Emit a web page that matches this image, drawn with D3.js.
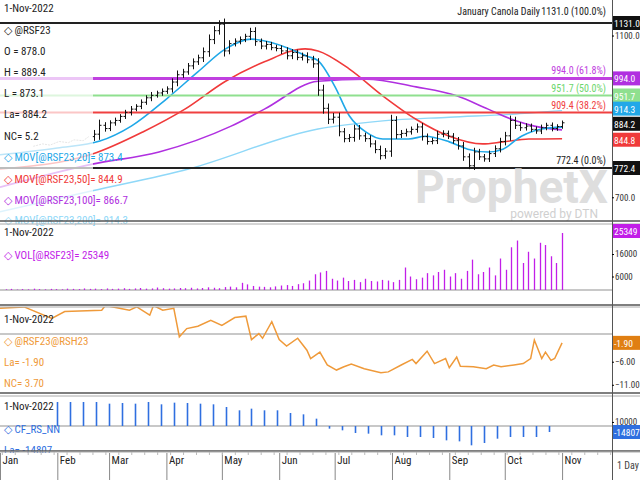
<!DOCTYPE html>
<html>
<head>
<meta charset="utf-8">
<script src="https://cdn.jsdelivr.net/npm/d3@7"></script>
<style>
  body { margin: 0; background: #fff; }
  svg text { font-family: "Liberation Sans Narrow", "Roboto Condensed", "Liberation Sans", sans-serif; font-size: 11px; }
</style>
</head>
<body>
<svg id="chart" width="640" height="480"></svg>
<script>
// January canola daily, with 20/50/100/200-day averages and Fibonacci levels
var barStart = '2022-02-21', barEnd = '2022-11-01';
var closes = [856, 878, 870, 884, 890, 900, 910, 918, 925, 935, 946, 952, 958, 962, 968, 985, 1003, 1010, 1025, 1035,
  1045, 1060, 1090, 1112, 1128, 1062, 1080, 1086, 1090, 1098, 1110, 1085, 1074, 1078, 1070, 1068, 1062, 1050, 1058, 1046,
  1050, 1040, 1030, 965, 920, 893, 898, 862, 845, 848, 869, 852, 845, 832, 818, 803, 814, 890, 855, 858,
  862, 868, 874, 850, 838, 840, 856, 858, 851, 840, 827, 800, 778, 812, 800, 795, 808, 820, 838, 852,
  890, 878, 872, 876, 868, 864, 872, 878, 870, 875, 884.2];
var ranges = [30, 40, 22, 18, 20, 16, 18, 22, 15, 20, 18, 24, 16, 20, 18, 26, 30, 22, 20, 24,
  22, 30, 36, 32, 28, 40, 24, 20, 22, 18, 26, 30, 22, 24, 18, 20, 22, 26, 24, 20,
  22, 24, 28, 40, 38, 34, 30, 32, 26, 24, 30, 28, 22, 24, 26, 28, 22, 40, 30, 24,
  22, 20, 24, 28, 22, 20, 24, 22, 20, 22, 26, 28, 24, 30, 22, 20, 22, 24, 26, 28,
  34, 26, 22, 20, 18, 20, 22, 18, 20, 16, 16];
var preDates = ['2022-01-19', '2022-01-24', '2022-01-28', '2022-02-02', '2022-02-07', '2022-02-10', '2022-02-15', '2022-02-18'];
var preCloses = [826, 832, 829, 838, 835, 842, 840, 850];

var ma20 = [['2022-01-01', 805], ['2022-02-01', 822], ['2022-02-24', 839], ['2022-03-13', 876], ['2022-04-01', 943], ['2022-04-18', 1010],
  ['2022-05-03', 1067], ['2022-05-17', 1091], ['2022-06-07', 1067], ['2022-06-16', 1049], ['2022-06-22', 1038], ['2022-07-01', 975],
  ['2022-07-09', 901], ['2022-07-18', 861], ['2022-07-27', 844], ['2022-08-10', 844], ['2022-08-19', 851], ['2022-09-01', 837],
  ['2022-09-11', 819], ['2022-09-22', 812], ['2022-09-30', 819], ['2022-10-10', 851], ['2022-10-21', 869], ['2022-11-01', 873.4]];
var ma50 = [['2022-01-01', 770], ['2022-02-20', 807], ['2022-03-19', 861], ['2022-04-11', 918], ['2022-05-03', 987], ['2022-05-24', 1035],
  ['2022-06-15', 1067], ['2022-06-22', 1062], ['2022-07-09', 1017], ['2022-07-27', 951], ['2022-08-14', 893], ['2022-09-01', 851],
  ['2022-09-19', 832], ['2022-09-30', 837], ['2022-10-14', 844], ['2022-11-01', 844.9]];
var ma100 = [['2022-01-01', 725], ['2022-02-20', 782], ['2022-03-28', 812], ['2022-05-06', 876], ['2022-05-24', 918], ['2022-06-22', 987],
  ['2022-07-18', 992], ['2022-08-14', 973], ['2022-09-05', 951], ['2022-09-22', 918], ['2022-10-07', 889], ['2022-10-17', 876], ['2022-11-01', 866.7]];
var ma200 = [['2022-01-01', 664], ['2022-02-20', 716], ['2022-04-13', 770], ['2022-06-22', 869], ['2022-07-27', 889], ['2022-09-01', 898],
  ['2022-10-07', 906], ['2022-11-01', 914.3]];

var fibLevels = [1131.0, 994.0, 951.7, 909.4, 772.4];
var fibLabels = ['1131.0 (100.0%)', '994.0 (61.8%)', '951.7 (50.0%)', '909.4 (38.2%)', '772.4 (0.0%)'];
var fibColors = ['#222', '#c040e0', '#8fe08f', '#f04040', '#222'];

var volStart = '2022-01-04', volEnd = '2022-11-01';
var volumes = [300, 500, 200, 400, 300, 600, 400, 300, 500, 400, 300, 600, 500, 400, 700, 500, 600, 400, 700, 500,
  600, 800, 500, 700, 900, 600, 700, 1100, 800, 600, 700, 900, 800, 1000, 700, 900, 1200, 1000, 800, 1300,
  1500, 1200, 3200, 2500, 1800, 1500, 1400, 1200, 1600, 2000, 2200, 1800, 2600, 3000, 4200, 7000, 7800, 8500, 5000, 4200,
  5500, 4000, 4500, 3500, 5000, 4000, 3800, 4500, 4200, 3500, 4500, 10000, 6000, 4800, 5500, 7500, 6500, 8000, 9000, 6000,
  7500, 5000, 8500, 13500, 7000, 8000, 10000, 6500, 14000, 9000, 19000, 22000, 12000, 17000, 14000, 21000, 20000, 15000, 12000, 25349];

var spreadDates = ['2022-01-01', '2022-01-14', '2022-01-29', '2022-02-05', '2022-02-25', '2022-02-27', '2022-03-12', '2022-03-16', '2022-03-23',
  '2022-03-25', '2022-03-30', '2022-04-05', '2022-04-08', '2022-04-12', '2022-04-18', '2022-04-25', '2022-05-01', '2022-05-08', '2022-05-14',
  '2022-05-17', '2022-05-21', '2022-05-23', '2022-05-28', '2022-06-01', '2022-06-05', '2022-06-11', '2022-06-16', '2022-06-18', '2022-06-23',
  '2022-06-27', '2022-07-02', '2022-07-06', '2022-07-10', '2022-07-17', '2022-07-26', '2022-07-30', '2022-08-06', '2022-08-12', '2022-08-14',
  '2022-08-20', '2022-08-24', '2022-08-30', '2022-09-01', '2022-09-05', '2022-09-07', '2022-09-14', '2022-09-21', '2022-09-25', '2022-09-29',
  '2022-10-06', '2022-10-11', '2022-10-15', '2022-10-17', '2022-10-21', '2022-10-23', '2022-10-26', '2022-10-28', '2022-11-01'];
var spreadValues = [5.6, 5.9, 3.4, 4.9, 5.2, 6.2, 5.2, 5.9, 4.1,
  6.2, 5.2, 5.6, -0.6, 1.2, 1.7, 3.0, 1.9, 3.6, 3.9,
  -1.2, 0.1, -0.9, 2.7, -1.2, -2.6, -0.9, -3.5, -5.3, -3.9,
  -6.7, -7.8, -7.1, -6.5, -7.5, -8.4, -8.2, -6.7, -5.5, -6.4,
  -3.7, -6.4, -5.3, -7.3, -5.0, -7.0, -7.1, -7.5, -6.7, -7.1,
  -6.7, -6.4, -5.3, -1.3, -5.3, -3.9, -5.7, -5.3, -1.9];

var cotStart = '2022-02-01';
var cotValues = [59300, 59300, 59300, 59300, 55100, 56800, 55100, 59300, 53500, 57600, 56800, 55100, 53500, 46900, 38700, 42800,
  38700, 38700, 32100, 28800, 18100, -6600, -10700, -17300, -18900, -23000, -23000, -27200, -27200, -29600, -35400, -37900,
  -47700, -42000, -31300, -27200, -27200, -27200, -14807];

var monthLabels = ['Jan', 'Feb', 'Mar', 'Apr', 'May', 'Jun', 'Jul', 'Aug', 'Sep', 'Oct', 'Nov'];

var parse = d3.timeParse('%Y-%m-%d');
var svg = d3.select('#chart');
var W = 612;
var x = d3.scaleTime().domain([new Date(2022, 0, 1), new Date(2022, 10, 28)]).range([0, W]);

svg.append('rect').attr('width', 640).attr('height', 480).attr('fill', '#fff');

function clip(id, y0, y1) {
  svg.append('clipPath').attr('id', id).append('rect').attr('x', 0).attr('y', y0).attr('width', W).attr('height', y1 - y0);
}
clip('cp1', 0, 221); clip('cp2', 223, 305); clip('cp3', 307, 393); clip('cp4', 396, 451);

// ---------- price panel ----------
var yP = d3.scaleLinear().domain([772.4, 1131]).range([168, 23]);
var g1 = svg.append('g').attr('clip-path', 'url(#cp1)');

var maLine = d3.line().curve(d3.curveMonotoneX).x(d => x(parse(d[0]))).y(d => yP(d[1]));
[[ma200, '#8fd8f8', 1.4], [ma100, '#b030e0', 1.6], [ma50, '#f03a3a', 1.6], [ma20, '#1fa8e8', 1.6]].forEach(function (m) {
  g1.append('path').attr('d', maLine(m[0])).attr('fill', 'none').attr('stroke', m[1]).attr('stroke-width', m[2]);
});

fibLevels.forEach(function (v, i) {
  g1.append('line').attr('x1', 0).attr('x2', W).attr('y1', yP(v)).attr('y2', yP(v))
    .attr('stroke', fibColors[i]).attr('stroke-width', i === 1 ? 3 : 2);
});

g1.append('path')
  .attr('d', d3.line().x((d, i) => x(parse(preDates[i]))).y(d => yP(d))(preCloses))
  .attr('fill', 'none').attr('stroke', '#aaa').attr('stroke-width', 1).attr('stroke-dasharray', '2,1');

var t0 = parse(barStart), t1 = parse(barEnd);
var barTime = d3.scaleLinear().domain([0, closes.length - 1]).range([t0.getTime(), t1.getTime()]);
closes.forEach(function (c, i) {
  var bx = Math.round(x(new Date(barTime(i)))) + 0.5;
  var o = i === 0 ? preCloses[preCloses.length - 1] : closes[i - 1];
  var hi = Math.max(o, c) + ranges[i] * 0.35, lo = Math.min(o, c) - ranges[i] * 0.35;
  g1.append('line').attr('x1', bx).attr('x2', bx).attr('y1', yP(hi)).attr('y2', yP(lo)).attr('stroke', '#111');
  g1.append('line').attr('x1', bx - 2).attr('x2', bx).attr('y1', yP(o)).attr('y2', yP(o)).attr('stroke', '#111');
  g1.append('line').attr('x1', bx).attr('x2', bx + 2).attr('y1', yP(c)).attr('y2', yP(c)).attr('stroke', '#111');
});

// watermark
svg.append('text').attr('x', 415).attr('y', 203).text('ProphetX')
  .style('font-family', 'Roboto, sans-serif').style('font-size', '46px').style('font-weight', 'bold').attr('fill', '#d6d6d6').attr('opacity', 0.8);
svg.append('text').attr('x', 598).attr('y', 218).attr('text-anchor', 'end').text('powered by DTN')
  .style('font-family', 'Roboto, sans-serif').style('font-size', '12px').attr('fill', '#cfcfcf');

// legend backdrop
svg.append('rect').attr('x', 0).attr('y', 26).attr('width', 93).attr('height', 195).attr('fill', '#fff').attr('opacity', 0.7);
var leg1 = [['1-Nov-2022', '#222', 12], ['\u25C7 @RSF23', '#222', 34], ['O = 878.0', '#222', 55], ['H = 889.4', '#222', 76],
  ['L = 873.1', '#222', 97], ['La= 884.2', '#222', 118], ['NC= 5.2', '#222', 140],
  ['\u25C7 MOV[@RSF23,20]= 873.4', '#1fa8e8', 161], ['\u25C7 MOV[@RSF23,50]= 844.9', '#f03a3a', 183],
  ['\u25C7 MOV[@RSF23,100]= 866.7', '#b030e0', 204], ['\u25C7 MOV[@RSF23,200]= 914.3', '#8fd8f8', 224]];
leg1.forEach(function (l) {
  svg.append('text').attr('x', 4).attr('y', l[2]).attr('fill', l[1]).text(l[0]);
});
svg.append('text').attr('x', 540).attr('y', 15).attr('text-anchor', 'end').attr('fill', '#222').style('font-size', '10px').text('January Canola Daily');
fibLabels.forEach(function (t, i) {
  var yy = i === 0 ? 15 : yP(fibLevels[i]) - 4;
  svg.append('text').attr('x', 606).attr('y', yy).attr('text-anchor', 'end').style('font-size', '10px')
    .attr('fill', fibColors[i] === '#8fe08f' ? '#6cd66c' : fibColors[i]).text(t);
});

// ---------- volume panel ----------
var yV = d3.scaleLinear().domain([-4000, 25349]).range([299, 233]);
var g2 = svg.append('g').attr('clip-path', 'url(#cp2)');
g2.append('line').attr('x1', 0).attr('x2', W).attr('y1', yV(0)).attr('y2', yV(0)).attr('stroke', '#c8c8c8').attr('stroke-width', 2);
var volTime = d3.scaleLinear().domain([0, volumes.length - 1]).range([parse(volStart).getTime(), parse(volEnd).getTime()]);
volumes.forEach(function (v, i) {
  var bx = Math.round(x(new Date(volTime(i)))) + 0.5;
  g2.append('line').attr('x1', bx).attr('x2', bx).attr('y1', yV(0)).attr('y2', yV(v)).attr('stroke', '#c21ee8').attr('stroke-width', 1.3);
});
svg.append('text').attr('x', 4).attr('y', 236).attr('fill', '#222').text('1-Nov-2022');
svg.append('text').attr('x', 4).attr('y', 259).attr('fill', '#c21ee8').text('\u25C7 VOL[@RSF23]= 25349');

// ---------- spread panel ----------
var yS = d3.scaleLinear().domain([6.1, -13.0]).range([306, 394]);
var g3 = svg.append('g').attr('clip-path', 'url(#cp3)');
g3.append('line').attr('x1', 0).attr('x2', W).attr('y1', yS(0)).attr('y2', yS(0)).attr('stroke', '#c8c8c8').attr('stroke-width', 2);
g3.append('path')
  .attr('d', d3.line().x((d, i) => x(parse(spreadDates[i]))).y(d => yS(d))(spreadValues))
  .attr('fill', 'none').attr('stroke', '#ef9a3a').attr('stroke-width', 1.5);
svg.append('text').attr('x', 4).attr('y', 323).attr('fill', '#222').text('1-Nov-2022');
svg.append('text').attr('x', 4).attr('y', 345).attr('fill', '#ef9a3a').text('\u25C7 @RSF23@RSH23');
svg.append('text').attr('x', 4).attr('y', 366).attr('fill', '#ef9a3a').text('La= -1.90');
svg.append('text').attr('x', 4).attr('y', 387).attr('fill', '#ef9a3a').text('NC= 3.70');

// ---------- COT panel ----------
var yC = d3.scaleLinear().domain([0, -14807]).range([426, 432]);
var g4 = svg.append('g').attr('clip-path', 'url(#cp4)');
g4.append('line').attr('x1', 0).attr('x2', W).attr('y1', yC(0)).attr('y2', yC(0)).attr('stroke', '#c8c8c8').attr('stroke-width', 2);
cotValues.forEach(function (v, i) {
  var bx = Math.round(x(d3.timeWeek.offset(parse(cotStart), i))) + 0.5;
  g4.append('line').attr('x1', bx).attr('x2', bx).attr('y1', yC(0)).attr('y2', yC(v)).attr('stroke', '#2f6fe0').attr('stroke-width', 1.6);
});
svg.append('text').attr('x', 4).attr('y', 410).attr('fill', '#222').text('1-Nov-2022');
svg.append('text').attr('x', 4).attr('y', 433).attr('fill', '#2f6fe0').text('\u25C7 CF_RS_NN');
svg.append('text').attr('x', 4).attr('y', 454).attr('fill', '#2f6fe0').text('La= -14807');

// ---------- panel frames ----------
[[221, 224], [305, 307], [393, 396], [451, 452]].forEach(function (p) {
  p.forEach(function (yy, j) {
    svg.append('line').attr('x1', 0).attr('x2', 640).attr('y1', yy).attr('y2', yy)
      .attr('stroke', j === 0 ? '#555' : '#aaa').attr('stroke-width', j === 0 ? 1.5 : 1);
  });
});
svg.append('rect').attr('x', 0).attr('y', 453).attr('width', 640).attr('height', 27).attr('fill', '#fff');
svg.append('line').attr('x1', W + 0.5).attr('x2', W + 0.5).attr('y1', 0).attr('y2', 480).attr('stroke', '#555');

// x axis
var xAxis = d3.axisBottom(x).ticks(d3.timeMonth.every(1)).tickSize(0).tickFormat(d => monthLabels[d.getMonth()]);
var ax = svg.append('g').attr('transform', 'translate(0,453)').call(xAxis);
ax.select('.domain').remove();
ax.selectAll('text').attr('text-anchor', 'start').attr('dx', 2).attr('dy', 8).attr('fill', '#222').style('font-size', '11px');
ax.selectAll('.tick').append('line').attr('y1', 0).attr('y2', 27).attr('stroke', '#888');
svg.append('g').attr('transform', 'translate(0,452)').call(d3.axisBottom(x).ticks(d3.timeWeek.every(1)).tickSize(3).tickFormat(''))
  .call(g => g.select('.domain').remove()).selectAll('line').attr('stroke', '#bbb');
svg.append('text').attr('x', 617).attr('y', 469).attr('fill', '#444').style('font-size', '10px').text('1 Day');

// right axes
function rightAxis(scale, ticks, fmt) {
  var g = svg.append('g').attr('transform', 'translate(' + W + ',0)')
    .call(d3.axisRight(scale).tickValues(ticks).tickSize(2).tickPadding(1).tickFormat(fmt));
  g.select('.domain').remove();
  g.selectAll('text').attr('fill', '#333').style('font-size', '9px');
}
rightAxis(yP, [1100, 700], d3.format('.1f'));
rightAxis(yV, [16000, 6000], d3.format('d'));
rightAxis(yS, [-6, -11], d3.format('.2f'));
rightAxis(yC, [10000], d3.format('d'));

function tag(v, y, bg, fg) {
  svg.append('rect').attr('x', W + 1).attr('y', y - 7).attr('width', 27).attr('height', 14).attr('fill', bg);
  svg.append('text').attr('x', W + 2).attr('y', y + 4).attr('fill', fg).style('font-size', '9.5px').text(v);
}
tag('1131.0', yP(1131), '#111', '#fff');
tag('994.0', yP(994), '#b030e0', '#fff');
tag('951.7', yP(951.7), '#8fe08f', '#fff');
tag('914.3', yP(914.3) - 2, '#22a8e8', '#fff');
tag('884.2', yP(884.2) + 1, '#111', '#fff');
tag('844.8', yP(844.8) + 1, '#f03a3a', '#fff');
tag('772.4', yP(772.4), '#111', '#fff');
tag('25349', 231, '#c21ee8', '#fff');
tag('-1.90', yS(-1.9), '#e07f12', '#fff');
tag('-14807', yC(-14807), '#2f6fe0', '#fff');
</script>
</body>
</html>
